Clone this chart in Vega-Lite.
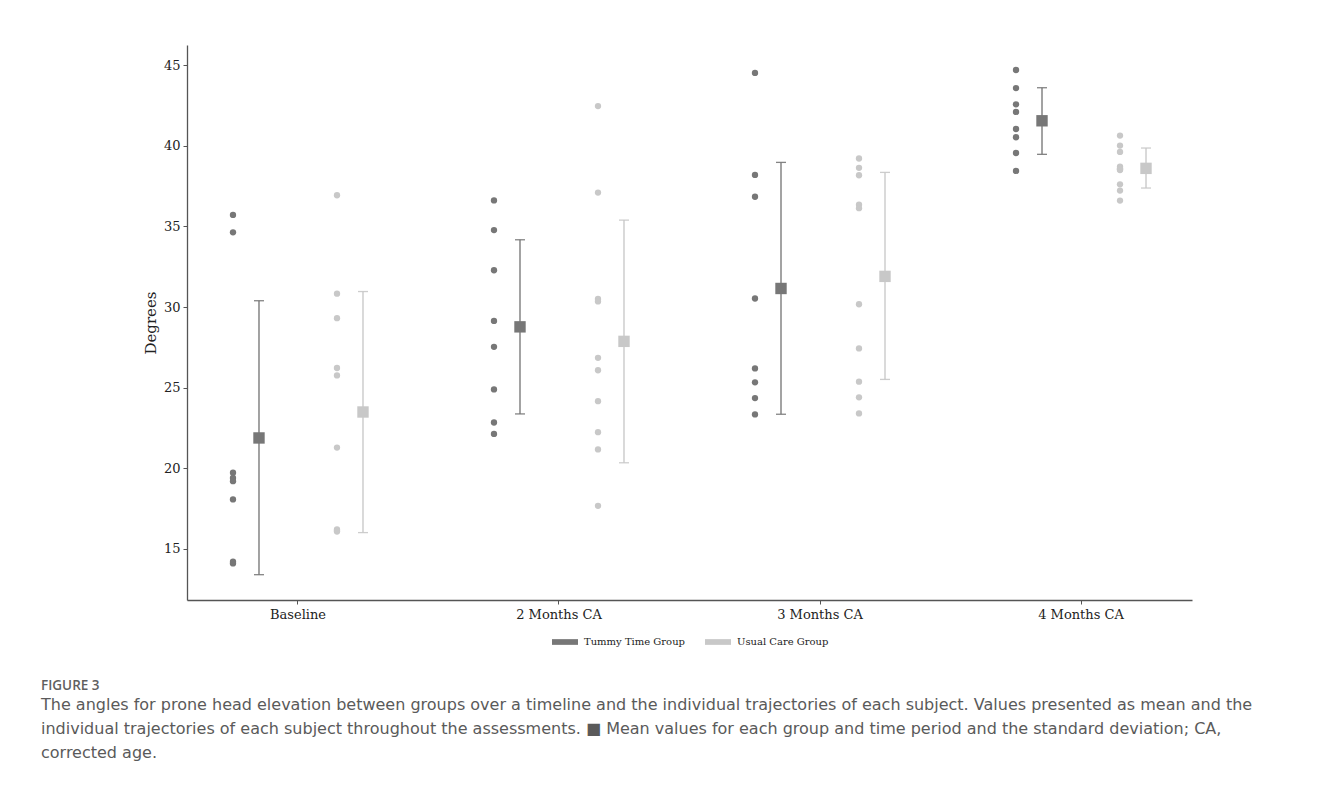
{
  "$schema": "https://vega.github.io/schema/vega-lite/v6.json",
  "autosize": {"type": "none"},
  "width": 1005,
  "height": 555,
  "padding": {"left": 187, "top": 45, "right": 138, "bottom": 187},
  "background": "white",
  "datasets": {
    "subjects": [
      {"time": "Baseline", "group": "Tummy Time Group", "series": "Tummy Time Group (subjects)", "value": 35.71},
      {"time": "Baseline", "group": "Tummy Time Group", "series": "Tummy Time Group (subjects)", "value": 34.63},
      {"time": "Baseline", "group": "Tummy Time Group", "series": "Tummy Time Group (subjects)", "value": 19.72},
      {"time": "Baseline", "group": "Tummy Time Group", "series": "Tummy Time Group (subjects)", "value": 19.4},
      {"time": "Baseline", "group": "Tummy Time Group", "series": "Tummy Time Group (subjects)", "value": 19.2},
      {"time": "Baseline", "group": "Tummy Time Group", "series": "Tummy Time Group (subjects)", "value": 18.07},
      {"time": "Baseline", "group": "Tummy Time Group", "series": "Tummy Time Group (subjects)", "value": 14.1},
      {"time": "Baseline", "group": "Tummy Time Group", "series": "Tummy Time Group (subjects)", "value": 14.2},
      {"time": "Baseline", "group": "Usual Care Group", "series": "Usual Care Group (subjects)", "value": 36.93},
      {"time": "Baseline", "group": "Usual Care Group", "series": "Usual Care Group (subjects)", "value": 30.83},
      {"time": "Baseline", "group": "Usual Care Group", "series": "Usual Care Group (subjects)", "value": 29.31},
      {"time": "Baseline", "group": "Usual Care Group", "series": "Usual Care Group (subjects)", "value": 26.22},
      {"time": "Baseline", "group": "Usual Care Group", "series": "Usual Care Group (subjects)", "value": 25.76},
      {"time": "Baseline", "group": "Usual Care Group", "series": "Usual Care Group (subjects)", "value": 21.28},
      {"time": "Baseline", "group": "Usual Care Group", "series": "Usual Care Group (subjects)", "value": 16.2},
      {"time": "Baseline", "group": "Usual Care Group", "series": "Usual Care Group (subjects)", "value": 16.12},
      {"time": "Baseline", "group": "Usual Care Group", "series": "Usual Care Group (subjects)", "value": 16.08},
      {"time": "2 Months CA", "group": "Tummy Time Group", "series": "Tummy Time Group (subjects)", "value": 36.61},
      {"time": "2 Months CA", "group": "Tummy Time Group", "series": "Tummy Time Group (subjects)", "value": 34.77},
      {"time": "2 Months CA", "group": "Tummy Time Group", "series": "Tummy Time Group (subjects)", "value": 32.28},
      {"time": "2 Months CA", "group": "Tummy Time Group", "series": "Tummy Time Group (subjects)", "value": 29.14},
      {"time": "2 Months CA", "group": "Tummy Time Group", "series": "Tummy Time Group (subjects)", "value": 27.53},
      {"time": "2 Months CA", "group": "Tummy Time Group", "series": "Tummy Time Group (subjects)", "value": 24.89},
      {"time": "2 Months CA", "group": "Tummy Time Group", "series": "Tummy Time Group (subjects)", "value": 22.84},
      {"time": "2 Months CA", "group": "Tummy Time Group", "series": "Tummy Time Group (subjects)", "value": 22.13},
      {"time": "2 Months CA", "group": "Usual Care Group", "series": "Usual Care Group (subjects)", "value": 42.46},
      {"time": "2 Months CA", "group": "Usual Care Group", "series": "Usual Care Group (subjects)", "value": 37.1},
      {"time": "2 Months CA", "group": "Usual Care Group", "series": "Usual Care Group (subjects)", "value": 30.5},
      {"time": "2 Months CA", "group": "Usual Care Group", "series": "Usual Care Group (subjects)", "value": 30.35},
      {"time": "2 Months CA", "group": "Usual Care Group", "series": "Usual Care Group (subjects)", "value": 26.85},
      {"time": "2 Months CA", "group": "Usual Care Group", "series": "Usual Care Group (subjects)", "value": 26.08},
      {"time": "2 Months CA", "group": "Usual Care Group", "series": "Usual Care Group (subjects)", "value": 24.16},
      {"time": "2 Months CA", "group": "Usual Care Group", "series": "Usual Care Group (subjects)", "value": 22.24},
      {"time": "2 Months CA", "group": "Usual Care Group", "series": "Usual Care Group (subjects)", "value": 21.17},
      {"time": "2 Months CA", "group": "Usual Care Group", "series": "Usual Care Group (subjects)", "value": 17.67},
      {"time": "3 Months CA", "group": "Tummy Time Group", "series": "Tummy Time Group (subjects)", "value": 44.52},
      {"time": "3 Months CA", "group": "Tummy Time Group", "series": "Tummy Time Group (subjects)", "value": 38.19},
      {"time": "3 Months CA", "group": "Tummy Time Group", "series": "Tummy Time Group (subjects)", "value": 36.84},
      {"time": "3 Months CA", "group": "Tummy Time Group", "series": "Tummy Time Group (subjects)", "value": 30.53},
      {"time": "3 Months CA", "group": "Tummy Time Group", "series": "Tummy Time Group (subjects)", "value": 26.19},
      {"time": "3 Months CA", "group": "Tummy Time Group", "series": "Tummy Time Group (subjects)", "value": 25.33},
      {"time": "3 Months CA", "group": "Tummy Time Group", "series": "Tummy Time Group (subjects)", "value": 24.35},
      {"time": "3 Months CA", "group": "Tummy Time Group", "series": "Tummy Time Group (subjects)", "value": 23.34},
      {"time": "3 Months CA", "group": "Usual Care Group", "series": "Usual Care Group (subjects)", "value": 39.21},
      {"time": "3 Months CA", "group": "Usual Care Group", "series": "Usual Care Group (subjects)", "value": 38.63},
      {"time": "3 Months CA", "group": "Usual Care Group", "series": "Usual Care Group (subjects)", "value": 38.17},
      {"time": "3 Months CA", "group": "Usual Care Group", "series": "Usual Care Group (subjects)", "value": 36.35},
      {"time": "3 Months CA", "group": "Usual Care Group", "series": "Usual Care Group (subjects)", "value": 36.13},
      {"time": "3 Months CA", "group": "Usual Care Group", "series": "Usual Care Group (subjects)", "value": 30.17},
      {"time": "3 Months CA", "group": "Usual Care Group", "series": "Usual Care Group (subjects)", "value": 27.43},
      {"time": "3 Months CA", "group": "Usual Care Group", "series": "Usual Care Group (subjects)", "value": 25.37},
      {"time": "3 Months CA", "group": "Usual Care Group", "series": "Usual Care Group (subjects)", "value": 24.4},
      {"time": "3 Months CA", "group": "Usual Care Group", "series": "Usual Care Group (subjects)", "value": 23.4},
      {"time": "4 Months CA", "group": "Tummy Time Group", "series": "Tummy Time Group (subjects)", "value": 44.7},
      {"time": "4 Months CA", "group": "Tummy Time Group", "series": "Tummy Time Group (subjects)", "value": 43.58},
      {"time": "4 Months CA", "group": "Tummy Time Group", "series": "Tummy Time Group (subjects)", "value": 42.57},
      {"time": "4 Months CA", "group": "Tummy Time Group", "series": "Tummy Time Group (subjects)", "value": 42.1},
      {"time": "4 Months CA", "group": "Tummy Time Group", "series": "Tummy Time Group (subjects)", "value": 41.04},
      {"time": "4 Months CA", "group": "Tummy Time Group", "series": "Tummy Time Group (subjects)", "value": 40.53},
      {"time": "4 Months CA", "group": "Tummy Time Group", "series": "Tummy Time Group (subjects)", "value": 39.55},
      {"time": "4 Months CA", "group": "Tummy Time Group", "series": "Tummy Time Group (subjects)", "value": 38.44},
      {"time": "4 Months CA", "group": "Usual Care Group", "series": "Usual Care Group (subjects)", "value": 40.63},
      {"time": "4 Months CA", "group": "Usual Care Group", "series": "Usual Care Group (subjects)", "value": 40.01},
      {"time": "4 Months CA", "group": "Usual Care Group", "series": "Usual Care Group (subjects)", "value": 39.62},
      {"time": "4 Months CA", "group": "Usual Care Group", "series": "Usual Care Group (subjects)", "value": 38.71},
      {"time": "4 Months CA", "group": "Usual Care Group", "series": "Usual Care Group (subjects)", "value": 38.6},
      {"time": "4 Months CA", "group": "Usual Care Group", "series": "Usual Care Group (subjects)", "value": 38.5},
      {"time": "4 Months CA", "group": "Usual Care Group", "series": "Usual Care Group (subjects)", "value": 38.54},
      {"time": "4 Months CA", "group": "Usual Care Group", "series": "Usual Care Group (subjects)", "value": 37.61},
      {"time": "4 Months CA", "group": "Usual Care Group", "series": "Usual Care Group (subjects)", "value": 37.22},
      {"time": "4 Months CA", "group": "Usual Care Group", "series": "Usual Care Group (subjects)", "value": 36.6}
    ],
    "summary": [
      {"time": "Baseline", "group": "Tummy Time Group", "series": "Tummy Time Group (mean ± SD)", "mean": 21.88, "low": 13.4, "high": 30.39},
      {"time": "Baseline", "group": "Usual Care Group", "series": "Usual Care Group (mean ± SD)", "mean": 23.49, "low": 16.01, "high": 30.96},
      {"time": "2 Months CA", "group": "Tummy Time Group", "series": "Tummy Time Group (mean ± SD)", "mean": 28.77, "low": 23.37, "high": 34.17},
      {"time": "2 Months CA", "group": "Usual Care Group", "series": "Usual Care Group (mean ± SD)", "mean": 27.87, "low": 20.34, "high": 35.39},
      {"time": "3 Months CA", "group": "Tummy Time Group", "series": "Tummy Time Group (mean ± SD)", "mean": 31.15, "low": 23.35, "high": 38.97},
      {"time": "3 Months CA", "group": "Usual Care Group", "series": "Usual Care Group (mean ± SD)", "mean": 31.9, "low": 25.51, "high": 38.35},
      {"time": "4 Months CA", "group": "Tummy Time Group", "series": "Tummy Time Group (mean ± SD)", "mean": 41.55, "low": 39.47, "high": 43.6},
      {"time": "4 Months CA", "group": "Usual Care Group", "series": "Usual Care Group (mean ± SD)", "mean": 38.6, "low": 37.38, "high": 39.86}
    ]
  },
  "title": {
    "text": "FIGURE 3",
    "subtitle": [
      "The angles for prone head elevation between groups over a timeline and the individual trajectories of each subject. Values presented as mean and the",
      "individual trajectories of each subject throughout the assessments. ■ Mean values for each group and time period and the standard deviation; CA,",
      "corrected age."
    ],
    "orient": "bottom",
    "anchor": "start",
    "frame": "group",
    "dx": -146,
    "offset": 32,
    "font": "Open Sans",
    "fontSize": 13.5,
    "fontWeight": 600,
    "color": "#5f5f5f",
    "subtitleFont": "DejaVu Sans",
    "subtitleFontSize": 16,
    "subtitleColor": "#5a5a5a",
    "subtitleLineHeight": 24,
    "subtitlePadding": 4
  },
  "config": {
    "view": {"stroke": null},
    "axis": {
      "labelFont": "DejaVu Serif",
      "labelFontSize": 13,
      "labelColor": "#222222",
      "titleFont": "DejaVu Serif",
      "titleFontSize": 15,
      "titleFontWeight": "normal",
      "titleColor": "#222222",
      "domainColor": "#555555",
      "domainWidth": 1.3,
      "tickColor": "#555555",
      "tickSize": 4,
      "grid": false
    }
  },
  "encoding": {
    "x": {
      "field": "time",
      "type": "nominal",
      "sort": ["Baseline", "2 Months CA", "3 Months CA", "4 Months CA"],
      "scale": {"paddingInner": 0.4023, "paddingOuter": 0.1264},
      "axis": {"title": null, "labelAngle": 0, "labelPadding": 4}
    },
    "xOffset": {
      "field": "series",
      "type": "nominal",
      "scale": {
        "domain": ["Tummy Time Group (subjects)", "Tummy Time Group (mean ± SD)", "gap 1", "gap 2", "Usual Care Group (subjects)", "Usual Care Group (mean ± SD)"],
        "paddingInner": 0,
        "paddingOuter": 0
      }
    },
    "color": {
      "field": "group",
      "type": "nominal",
      "scale": {"domain": ["Tummy Time Group", "Usual Care Group"], "range": ["#777777", "#c8c8c8"]},
      "legend": {
        "title": null,
        "orient": "none",
        "direction": "horizontal",
        "legendX": 365,
        "legendY": 584,
        "padding": 0,
        "symbolType": "M-1,-0.22L1,-0.22L1,0.22L-1,0.22Z",
        "symbolSize": 676,
        "symbolOpacity": 1,
        "symbolStrokeWidth": 0,
        "labelFont": "DejaVu Serif",
        "labelFontSize": 10,
        "labelColor": "#222222",
        "labelOffset": 6,
        "columnPadding": 20
      }
    }
  },
  "layer": [
    {
      "data": {"name": "summary"},
      "mark": {"type": "rule", "strokeWidth": 1.5, "opacity": 0.9},
      "encoding": {
        "y": {"field": "low", "type": "quantitative", "scale": {"domain": [11.83, 46.25], "nice": false, "zero": false}, "axis": {"title": "Degrees", "values": [15, 20, 25, 30, 35, 40, 45], "titlePadding": 5, "labelPadding": 3}},
        "y2": {"field": "high"}
      }
    },
    {
      "data": {"name": "summary"},
      "mark": {"type": "tick", "size": 10, "thickness": 1.3, "opacity": 0.9},
      "encoding": {"y": {"field": "low", "type": "quantitative"}}
    },
    {
      "data": {"name": "summary"},
      "mark": {"type": "tick", "size": 10, "thickness": 1.3, "opacity": 0.9},
      "encoding": {"y": {"field": "high", "type": "quantitative"}}
    },
    {
      "data": {"name": "subjects"},
      "mark": {"type": "circle", "size": 40, "opacity": 1},
      "encoding": {"y": {"field": "value", "type": "quantitative"}}
    },
    {
      "data": {"name": "summary"},
      "mark": {"type": "square", "size": 130, "opacity": 1},
      "encoding": {"y": {"field": "mean", "type": "quantitative"}}
    }
  ]
}
